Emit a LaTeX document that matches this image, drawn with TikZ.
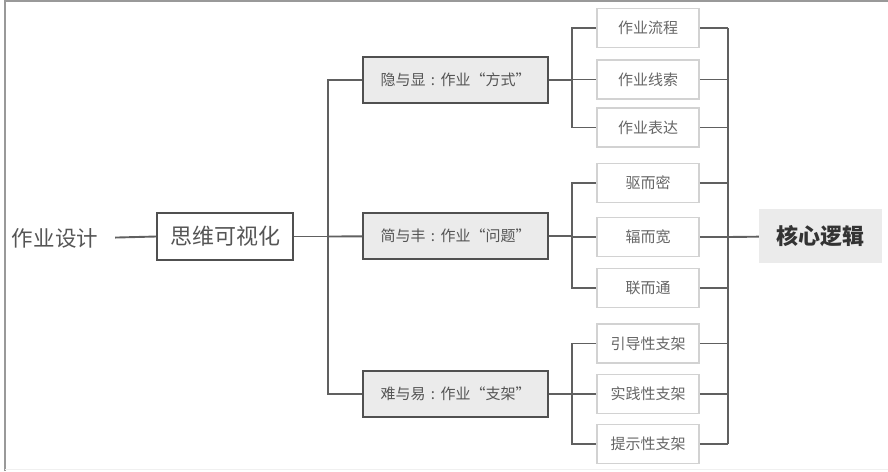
\documentclass[tikz,border=0pt]{standalone}
\usepackage{fontspec}
\setmainfont{Noto Sans CJK SC}
\usetikzlibrary{positioning}
\definecolor{linegray}{HTML}{606060}
\definecolor{boxline}{HTML}{505050}
\definecolor{boxgray}{HTML}{EBEBEB}
\definecolor{leafline}{HTML}{D2D2D2}
\definecolor{txtgray}{HTML}{555555}
\newcommand{\mycolon}{\makebox[1em]{:}}
\begin{document}
\begin{tikzpicture}[x=1pt,y=-1pt,
  link/.style={line width=1.9pt,draw=linegray},
  rootbox/.style={draw=boxline,line width=1.8pt,fill=white,minimum width=136pt,minimum height=47pt,
    text=txtgray,font=\fontsize{22}{24}\selectfont},
  midbox/.style={draw=boxline,line width=1.8pt,fill=boxgray,minimum width=185pt,minimum height=46pt,
    text=txtgray,font=\fontsize{15}{18}\selectfont},
  leafbox/.style={draw=leafline,line width=1.6pt,fill=white,minimum width=102pt,minimum height=39pt,
    text=txtgray!90,font=\fontsize{15}{18}\selectfont},
  corebox/.style={fill=boxgray,minimum width=123pt,minimum height=54pt,
    text=black!80,font=\fontsize{22}{24}\selectfont\bfseries}]
\useasboundingbox (0,0) rectangle (888,471);
% 枠
\draw[gray!80,line width=1.8pt] (5,471) -- (5,1) -- (888,1);
\draw[black!6,line width=1pt] (5,469) -- (888,469);
% 左側
\node[text=txtgray,font=\fontsize{21.5}{24}\selectfont,inner sep=0pt] (zysj) at (55,238) {作业设计};
\node[rootbox] (swksh) at (225,236.5) {思维可视化};
\draw[link,shorten <=17pt] (zysj.east) -- (swksh.west);
% 中間
\node[midbox] (yyx) at (455.5,80) {隐与显\mycolon 作业“方式”};
\node[midbox] (jyf) at (455.5,236) {简与丰\mycolon 作业“问题”};
\node[midbox] (nyy) at (455.5,394) {难与易\mycolon 作业“支架”};
\coordinate (trunk) at (328,236.5);
\draw[link] (swksh) -- (trunk);
\draw[link] (trunk) |- (yyx);
\draw[link] (trunk) |- (nyy);
\draw[link] (trunk) -- (jyf);
% 末端
\node[leafbox] (lc) at (648,28) {作业流程};
\node[leafbox] (xs) at (648,79.5) {作业线索};
\node[leafbox] (bd) at (648,127.5) {作业表达};
\node[leafbox] (qm) at (648,183) {驱而密};
\node[leafbox] (fk) at (648,237) {辐而宽};
\node[leafbox] (lt) at (648,288) {联而通};
\node[leafbox] (yd) at (648,343.5) {引导性支架};
\node[leafbox] (sj) at (648,394) {实践性支架};
\node[leafbox] (ts) at (648,444) {提示性支架};
\coordinate (fa) at (572,80);
\coordinate (fb) at (572,236);
\coordinate (fc) at (572,394);
\draw[link] (yyx) -- (fa);
\draw[link] (jyf) -- (fb);
\draw[link] (nyy) -- (fc);
\foreach \c in {lc,xs,bd} \draw[link] (fa) |- (\c);
\foreach \c in {qm,fk,lt} \draw[link] (fb) |- (\c);
\foreach \c in {yd,sj,ts} \draw[link] (fc) |- (\c);
% 右側
\node[corebox] (hxlj) at (820.5,236) {核心逻辑};
\coordinate (hub) at (728,237);
\foreach \c in {lc,xs,bd,qm,fk,lt,yd,sj,ts} \draw[link] (\c) -- (\c -| hub);
\draw[link] (lc -| hub) -- (ts -| hub);
\draw[link] (hub) -- (hxlj);
\end{tikzpicture}
\end{document}
